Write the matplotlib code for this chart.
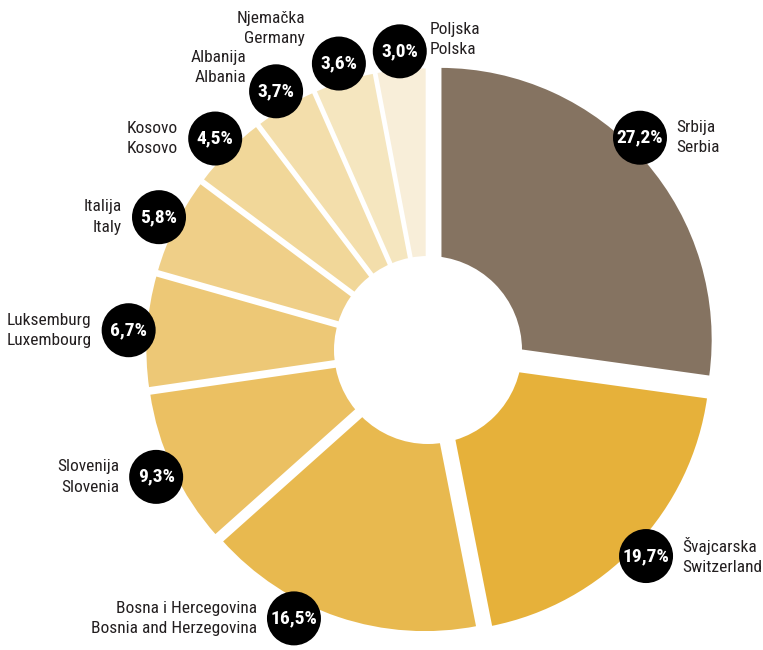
import numpy as np
import matplotlib
matplotlib.use("Agg")
import matplotlib.pyplot as plt
from matplotlib import font_manager
from matplotlib.patches import Circle

# share of each country, Serbian / English names
countries_sr = ["Srbija", "Švajcarska", "Bosna i Hercegovina", "Slovenija", "Luksemburg",
                "Italija", "Kosovo", "Albanija", "Njemačka", "Poljska"]
countries_en = ["Serbia", "Switzerland", "Bosnia and Herzegovina", "Slovenia", "Luxembourg",
                "Italy", "Kosovo", "Albania", "Germany", "Polska"]
shares = [27.2, 19.7, 16.5, 9.3, 6.7, 5.8, 4.5, 3.7, 3.6, 3.0]

colors = ["#857361", "#E6B13A", "#E8B94F", "#EBC062", "#EDC876",
          "#EFCF88", "#F1D799", "#F3DEAB", "#F5E6BF", "#F8EED9"]
# pie() takes explode in data units, here pixels
explode = [16, 14, 10, 10, 10, 10, 10, 10, 10, 10]


def pick_font(names):
    for n in names:
        try:
            font_manager.findfont(n, fallback_to_default=False)
            return n
        except Exception:
            pass
    return "DejaVu Sans"


narrow = pick_font(["Liberation Sans Narrow", "DejaVu Sans Condensed", "Roboto Condensed"])
plt.rcParams["font.family"] = [narrow, "DejaVu Sans"]

W, H = 763, 650
fig = plt.figure(figsize=(W / 100, H / 100), dpi=100)
ax = fig.add_axes([0, 0, 1, 1])

cx, cy = 428, H - 350
R = 273

ax.pie(shares, colors=colors, startangle=90, counterclock=False, explode=explode,
       radius=R, center=(cx, cy), frame=True,
       wedgeprops=dict(edgecolor="white", linewidth=2))
ax.set_xlim(0, W)
ax.set_ylim(0, H)
ax.set_aspect("equal")
ax.axis("off")
ax.add_patch(Circle((cx, cy), 94, facecolor="white", edgecolor="none", zorder=5))

# label bubble placement: angle nudge (deg) and text offset per slice
nudge = [-4, 0, 8, 0, 0, 0, 0, 0, 0, 0]
text_off = {7: (-30, 24), 8: (-34, 35), 9: (12, 12)}

start = 0.0
for i, v in enumerate(shares):
    mid = start + v * 3.6 / 2 + nudge[i]
    start += v * 3.6
    t = np.radians(mid)
    bx = cx + 300 * np.sin(t)
    by = cy + 300 * np.cos(t)
    ax.add_patch(Circle((bx, by), 27, facecolor="black", edgecolor="none", zorder=6))
    ax.text(bx, by, f"{v:.1f}%".replace(".", ","), color="white", fontsize=14,
            fontweight="bold", ha="center", va="center", zorder=7)
    label = countries_sr[i] + "\n" + countries_en[i]
    if i in text_off:
        dx, dy = text_off[i]
        if i == 9:
            tx, ty, ha = bx + 30, by + dy, "left"
        else:
            tx, ty, ha = bx + dx, by + dy, "right"
    elif np.sin(t) > 0:
        tx, ty, ha = bx + 36, by, "left"
    else:
        tx, ty, ha = bx - 37, by, "right"
    ax.text(tx, ty, label, color="#231F20", fontsize=12.5, ha=ha, va="center",
            linespacing=1.45, zorder=7)

fig.savefig("out.png", dpi=100)
